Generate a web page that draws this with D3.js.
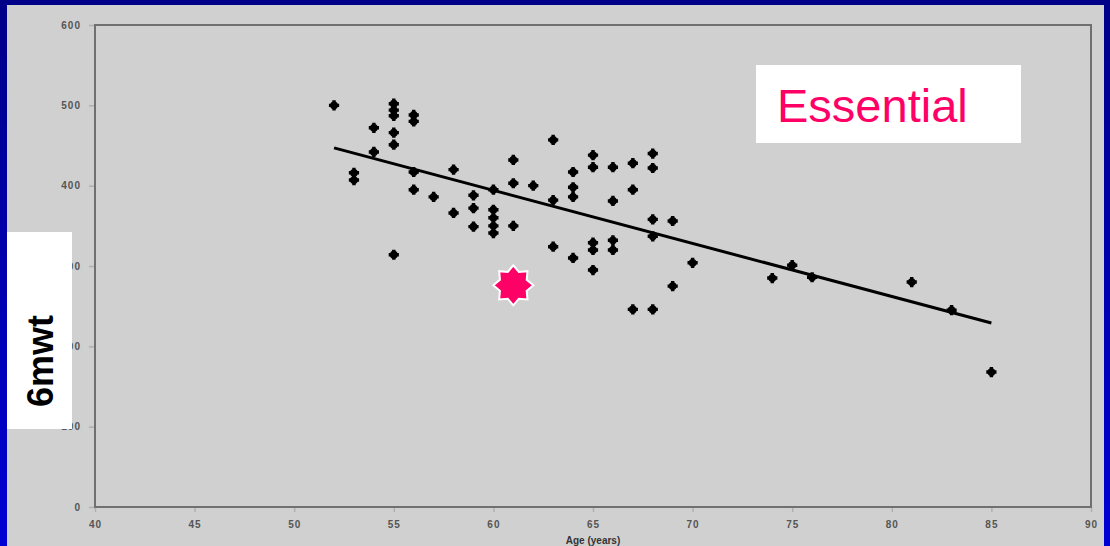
<!DOCTYPE html>
<html>
<head>
<meta charset="utf-8">
<script src="https://cdn.jsdelivr.net/npm/d3@7"></script>
<style>
  html, body { margin: 0; padding: 0; background: #0000b0; }
  svg { display: block; }
</style>
</head>
<body>
<div id="chart"></div>
<script>
// Age (x) and 6 minute walk distance (y) of every patient
const ages = [52, 53, 53, 54, 54, 55, 55, 55, 55, 55, 55, 56, 56, 56, 56, 57, 58, 58,
    59, 59, 59, 60, 60, 60, 60, 60, 61, 61, 61, 62, 63, 63, 63, 64, 64, 64, 64,
    65, 65, 65, 65, 65, 66, 66, 66, 66, 67, 67, 67, 68, 68, 68, 68, 68, 69, 69,
    70, 74, 75, 76, 81, 83, 85];
const walk = [500, 416, 407, 472, 442, 502, 494, 487, 466, 451, 314, 488, 480, 417, 395, 386, 420, 366,
    388, 372, 349, 395, 370, 360, 350, 341, 432, 403, 350, 400, 457, 382, 324, 417, 398, 386, 310,
    438, 423, 329, 320, 295, 423, 381, 332, 320, 428, 395, 246, 440, 422, 358, 337, 246, 356, 275,
    304, 285, 301, 286, 280, 245, 168];

// fitted line end points
const trendAge = [52, 85];
const trendWalk = [447, 229];

// the highlighted patient
const starAge = [61];
const starWalk = [276];

const xTicks = [40, 45, 50, 55, 60, 65, 70, 75, 80, 85, 90];
const yTicks = [0, 100, 200, 300, 400, 500, 600];

const width = 1110, height = 546;
const plot = { left: 95, right: 1091, top: 25, bottom: 507 };

const svg = d3.select("#chart").append("svg")
    .attr("width", width)
    .attr("height", height);

// blue slide background
const grad = svg.append("defs").append("linearGradient")
    .attr("id", "bg").attr("x1", 0).attr("y1", 0).attr("x2", 0).attr("y2", 1);
grad.append("stop").attr("offset", "0%").attr("stop-color", "#000088");
grad.append("stop").attr("offset", "100%").attr("stop-color", "#0000d4");

svg.append("rect")
    .attr("width", width).attr("height", height)
    .attr("fill", "url(#bg)");

// gray chart panel
svg.append("rect")
    .attr("x", 7).attr("y", 5)
    .attr("width", 1097).attr("height", height - 5)
    .attr("fill", "#d0d0d0");

const x = d3.scaleLinear().domain([40, 90]).range([plot.left, plot.right]);
const y = d3.scaleLinear().domain([0, 600]).range([plot.bottom, plot.top]);

// axes (ticks + labels)
const xAxis = svg.append("g")
    .attr("transform", `translate(0,${plot.bottom})`)
    .call(d3.axisBottom(x).tickValues(xTicks).tickSize(5).tickPadding(9));
const yAxis = svg.append("g")
    .attr("transform", `translate(${plot.left},0)`)
    .call(d3.axisLeft(y).tickValues(yTicks).tickSize(6).tickPadding(8));

[xAxis, yAxis].forEach(g => {
    g.select(".domain").remove();
    g.selectAll(".tick line").attr("stroke", "#b0b0b0").attr("stroke-width", 1.5);
    g.selectAll(".tick text")
        .attr("fill", "#555")
        .style("font-family", "Arial, 'Liberation Sans', sans-serif")
        .style("font-size", "10px")
        .style("font-weight", "bold")
        .style("letter-spacing", "1px");
});

// plot frame
svg.append("rect")
    .attr("x", plot.left).attr("y", plot.top)
    .attr("width", plot.right - plot.left)
    .attr("height", plot.bottom - plot.top)
    .attr("fill", "none")
    .attr("stroke", "#707070")
    .attr("stroke-width", 2);

// regression line
svg.append("line")
    .attr("x1", x(trendAge[0])).attr("y1", y(trendWalk[0]))
    .attr("x2", x(trendAge[1])).attr("y2", y(trendWalk[1]))
    .attr("stroke", "#000")
    .attr("stroke-width", 3);

// patients
const points = d3.range(ages.length).map(i => ({ age: ages[i], walk: walk[i] }));

const marks = svg.append("g").selectAll("g")
    .data(points)
    .join("g")
    .attr("transform", d => `translate(${x(d.age)},${y(d.walk)})`);

marks.append("path")
    .attr("d", d3.symbol(d3.symbolCross, 58))
    .attr("fill", "#000");
marks.append("circle")
    .attr("r", 3.9)
    .attr("fill", "#000");

// 8 point star
const starPts = [];
for (let k = 0; k < 16; k++) {
    const r = k % 2 === 0 ? 20 : 14.5;
    const a = k * Math.PI / 8 - Math.PI / 2;
    starPts.push([r * Math.cos(a), r * Math.sin(a)]);
}
svg.append("g")
    .selectAll("path")
    .data(starAge.map((a, i) => ({ age: a, walk: starWalk[i] })))
    .join("path")
    .attr("transform", d => `translate(${x(d.age)},${y(d.walk)})`)
    .attr("d", d3.line()(starPts) + "Z")
    .attr("fill", "#ff0066")
    .attr("stroke", "#fff")
    .attr("stroke-width", 2);

// "Essential" label
svg.append("rect")
    .attr("x", 756).attr("y", 65)
    .attr("width", 265).attr("height", 78)
    .attr("fill", "#fff");
svg.append("text")
    .attr("x", 777).attr("y", 122)
    .style("font-family", "Arial, 'Liberation Sans', sans-serif")
    .style("font-size", "47px")
    .attr("fill", "#ff0066")
    .text("Essential");

// y axis title
svg.append("rect")
    .attr("x", 7).attr("y", 232)
    .attr("width", 65).attr("height", 197)
    .attr("fill", "#fff");
svg.append("text")
    .attr("transform", "translate(53,361) rotate(-90)")
    .attr("text-anchor", "middle")
    .style("font-family", "Arial, 'Liberation Sans', sans-serif")
    .style("font-size", "36px")
    .style("font-weight", "bold")
    .attr("fill", "#000")
    .text("6mwt");

// x axis title, squeezed in at the bottom edge
svg.append("text")
    .attr("x", 593).attr("y", 544)
    .attr("text-anchor", "middle")
    .style("font-family", "Arial, 'Liberation Sans', sans-serif")
    .style("font-size", "10px")
    .style("font-weight", "bold")
    .attr("fill", "#333")
    .text("Age (years)");
</script>
</body>
</html>
